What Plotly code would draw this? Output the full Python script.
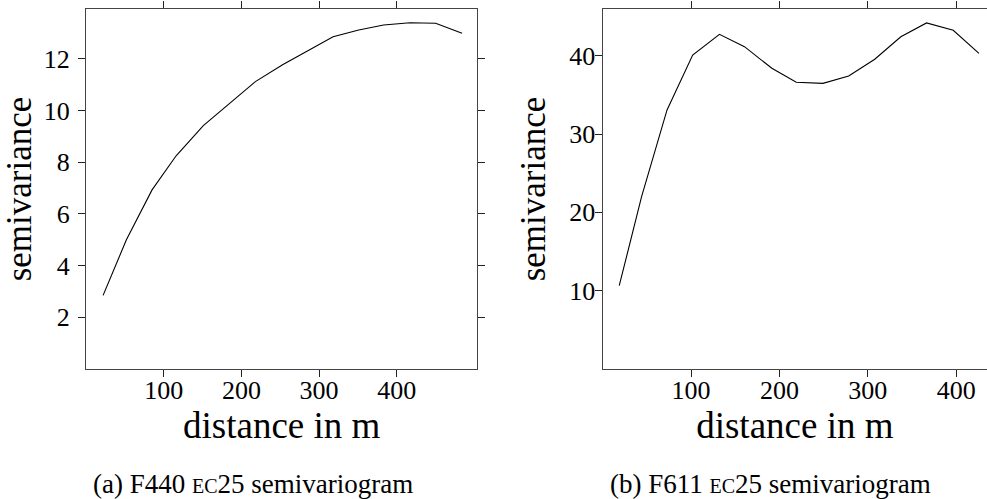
import plotly.graph_objects as go

# F440 EC25 semivariogram
dist_a = [22, 52, 85, 116, 151, 186, 218, 253, 284, 318, 351, 383, 417, 450, 484]
semi_a = [2.85, 5.0, 6.93, 8.25, 9.42, 10.29, 11.12, 11.77, 12.28, 12.86, 13.12, 13.31, 13.40, 13.38, 12.99]

# F611 EC25 semivariogram
dist_b = [18.7, 44, 72.8, 101.8, 132.1, 160.4, 191.4, 219, 249.2, 278.3, 307.8, 337.3, 366.4, 396.6, 425.7]
semi_b = [10.63, 22.0, 33.07, 40.09, 42.73, 41.15, 38.39, 36.6, 36.47, 37.4, 39.54, 42.42, 44.18, 43.24, 40.3]

xticks = [100, 200, 300, 400]
yticks_a = [2, 4, 6, 8, 10, 12]
yticks_b = [10, 20, 30, 40]

FONT = "Liberation Serif, 'DejaVu Serif', serif"
W, H = 987, 499

fig = go.Figure()
fig.add_trace(go.Scatter(x=dist_a, y=semi_a, mode="lines", line=dict(color="black", width=1.1),
                         xaxis="x", yaxis="y", showlegend=False, hoverinfo="skip"))
fig.add_trace(go.Scatter(x=dist_b, y=semi_b, mode="lines", line=dict(color="black", width=1.1),
                         xaxis="x2", yaxis="y2", showlegend=False, hoverinfo="skip"))

ydom = [1 - 369 / H, 1 - 9 / H]
axis_common = dict(showgrid=False, zeroline=False, showline=True, linecolor="#444", linewidth=1.3,
                   ticks="outside", ticklen=7, tickwidth=1, tickcolor="#222",
                   tickfont=dict(family=FONT, size=26, color="black"))

xtitle = dict(text="distance in m", font=dict(family=FONT, size=37), standoff=6)
ytitle = dict(text="semivariance", font=dict(family=FONT, size=35), standoff=13)

fig.update_layout(
    width=W, height=H,
    margin=dict(l=0, r=0, t=0, b=0),
    paper_bgcolor="white", plot_bgcolor="white",
    font=dict(family=FONT, color="black"),
    xaxis=dict(domain=[86 / W, 477.3 / W], range=[0, 503.6], tickvals=xticks, mirror="ticks",
               anchor="y", title=xtitle, ticklabelstandoff=-9, **axis_common),
    yaxis=dict(domain=ydom, range=[0, 13.93], tickvals=yticks_a, mirror="ticks", anchor="x",
               title=ytitle, ticklabelstandoff=3, **axis_common),
    xaxis2=dict(domain=[602.7 / W, 1.0], range=[0, 434.8], tickvals=xticks, mirror="ticks",
                anchor="y2", title=xtitle, ticklabelstandoff=-9, **axis_common),
    yaxis2=dict(domain=ydom, range=[0, 45.96], tickvals=yticks_b, mirror=False, anchor="x2",
                title=ytitle, ticklabelstandoff=-6, **axis_common),
)

cap_font = dict(family=FONT, size=27, color="black")
fig.add_annotation(text="(a) F440 <span style='font-size:20px'>EC</span>25 semivariogram",
                   xref="paper", yref="paper", x=253 / W, y=1 - 484 / H, showarrow=False,
                   xanchor="center", yanchor="middle", font=cap_font)
fig.add_annotation(text="(b) F611 <span style='font-size:20px'>EC</span>25 semivariogram",
                   xref="paper", yref="paper", x=770 / W, y=1 - 484 / H, showarrow=False,
                   xanchor="center", yanchor="middle", font=cap_font)

fig.write_html("out.html", config={"displayModeBar": False},
               post_script="document.body.style.margin='0';document.body.style.overflow='hidden';")
